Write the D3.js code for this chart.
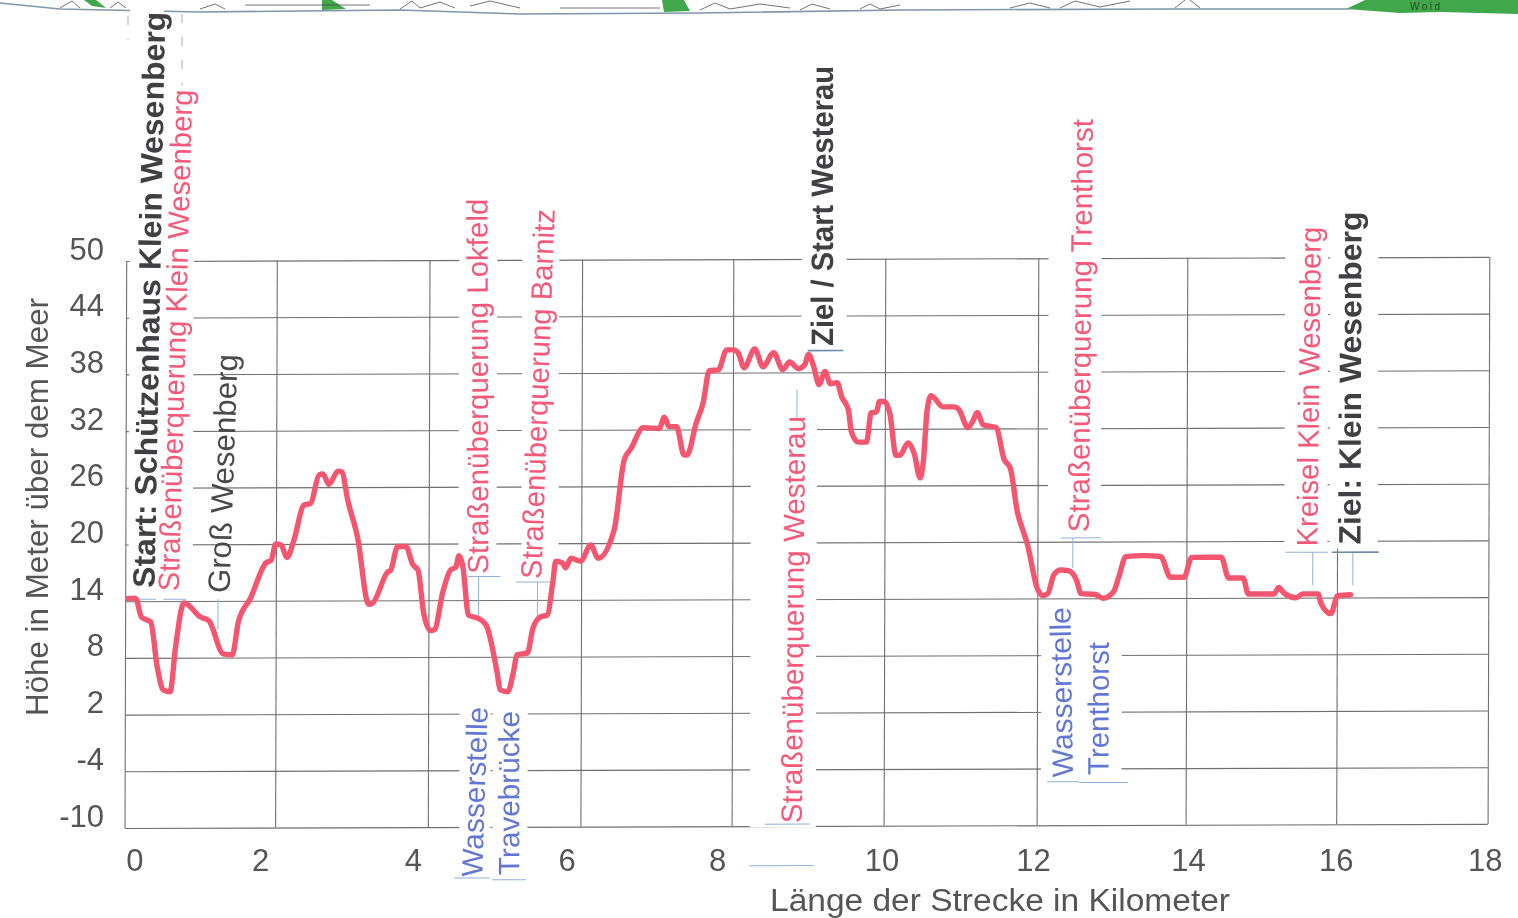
<!DOCTYPE html>
<html>
<head>
<meta charset="utf-8">
<title>Höhenprofil</title>
<script src="https://cdn.jsdelivr.net/npm/d3@7"></script>
<style>
  html, body { margin: 0; padding: 0; background: #fff; overflow: hidden; }
  svg { display: block; }
  text { font-family: "Liberation Sans", Arial, sans-serif; }
  .grid line { stroke: #6f6f6f; stroke-width: 1.1; }
  .grid path { display: none; }
  .tick-label, .axis-title { fill: #545454; }
  .label-start { fill: #404042; font-weight: bold; font-size: 31px; }
  .label-road { fill: #f4597a; font-size: 29.5px; }
  .label-place { fill: #4a4a4c; font-size: 31px; }
  .label-water { fill: #6277d4; font-size: 29.5px; }
</style>
</head>
<body>
<svg id="canvas"></svg>
<script>
// Profile: distance in km, height in m
const distanceKm = [0.03,0.13,0.21,0.33,0.42,0.50,0.59,0.66,0.77,0.99,1.10,1.29,1.41,1.49,1.65,1.85,1.92,1.98,2.05,2.13,2.22,2.35,2.44,2.55,2.60,2.68,2.80,2.85,2.93,3.06,3.21,3.26,3.46,3.50,3.59,3.70,3.79,3.86,3.94,4.03,4.08,4.19,4.29,4.36,4.40,4.45,4.53,4.65,4.76,4.91,4.95,5.05,5.13,5.17,5.31,5.38,5.48,5.57,5.64,5.68,5.77,5.81,5.88,6.01,6.14,6.24,6.45,6.58,6.67,6.83,7.04,7.11,7.17,7.27,7.37,7.41,7.53,7.62,7.70,7.82,7.93,8.02,8.08,8.16,8.30,8.41,8.55,8.67,8.76,8.88,8.96,9.01,9.08,9.15,9.23,9.30,9.39,9.45,9.54,9.58,9.67,9.78,9.84,9.91,9.95,10.01,10.09,10.17,10.22,10.33,10.41,10.49,10.53,10.58,10.63,10.79,10.94,11.00,11.12,11.19,11.24,11.32,11.49,11.60,11.68,11.78,11.85,11.90,12.05,12.11,12.18,12.26,12.35,12.46,12.56,12.62,12.81,12.91,13.05,13.12,13.21,13.45,13.67,13.80,13.98,14.08,14.47,14.57,14.76,14.83,15.17,15.23,15.30,15.46,15.55,15.75,15.79,15.92,16.01,16.18];
const heightM = [14.3,14.3,12.3,11.8,7.0,4.6,4.4,9.1,13.8,12.3,11.9,8.4,8.3,11.8,14.3,18.0,18.3,20.0,19.9,18.6,20.4,24.1,24.3,27.3,27.4,26.3,27.7,27.6,24.6,20.7,13.6,13.7,17.0,17.2,19.7,19.7,17.8,17.2,12.5,10.8,10.9,14.9,17.2,17.5,18.7,17.7,12.4,12.1,11.4,6.3,4.5,4.3,6.6,8.2,8.4,11.0,12.2,12.4,15.8,18.1,17.9,17.4,18.4,18.1,19.8,18.4,21.4,28.8,30.0,32.2,32.1,33.3,32.3,32.3,29.3,29.3,32.7,34.8,38.2,38.3,40.4,40.4,40.1,38.5,40.5,38.6,40.1,38.3,39.1,38.4,38.8,39.9,38.6,36.7,38.1,36.8,36.9,35.4,34.0,31.7,30.6,30.6,33.7,33.8,34.9,34.9,33.5,29.2,29.2,30.5,29.4,26.8,28.4,34.0,35.5,34.3,34.3,34.0,32.1,32.9,33.7,32.4,32.1,28.7,27.8,23.0,21.2,20.0,14.9,14.3,14.5,16.5,17.0,16.9,15.9,14.5,14.4,14.0,14.7,16.3,18.4,18.5,18.4,16.2,16.2,18.3,18.3,16.1,16.1,14.4,14.4,15.1,14.5,14.0,14.4,14.4,13.4,12.3,14.2,14.3];

const xTicks = [0,2,4,6,8,10,12,14,16,18];
const yTicks = [-10,-4,2,8,14,20,26,32,38,44,50];

// Waypoint names, with where each one starts on the chart (km, m)
const labelNames = ["Start: Schützenhaus Klein Wesenberg","Straßenüberquerung Klein Wesenberg","Groß Wesenberg","Straßenüberquerung Lokfeld","Straßenüberquerung Barnitz","Wasserstelle","Travebrücke","Straßenüberquerung Westerau","Ziel / Start Westerau","Straßenüberquerung Trenthorst","Wasserstelle","Trenthorst","Kreisel Klein Wesenberg","Ziel: Klein Wesenberg"];
const labelKinds = ["start","road","place","road","road","water","water","road","start","road","water","water","road","start"];
const labelKm = [0.38,0.70,1.37,4.79,5.49,4.72,5.21,8.94,9.34,12.72,12.52,12.99,15.74,16.31];
const labelM = [15.4,15.0,14.8,16.8,16.2,-15.3,-15.1,-9.7,40.8,21.0,-4.9,-4.7,19.4,19.6];

// Printed length, hand-pasted tilt (deg), and how far the white strip reaches either side of the baseline (px)
const labelLength = [576,502,239,375,370,170,164,407,280,413,170,133,320,333];
const labelTilt = [0.9,1.4,1.8,-0.3,1.9,1.7,-0.2,0.3,-0.2,0.4,-1,0,0.5,0];
const maskLeft = [26,18,0,30,20,23,27,52,32,41,32,36,33,31];
const maskRight = [8,14,0,8,17,8,8,14,13,12,11,13,10,17];

// Paper offsets of the printed tick labels against their grid lines (km)
const xTickShift = [0.13,-0.21,-0.19,-0.16,-0.17,0,0,0.05,0,-0.03];
// The printed km grid is not quite even on the scan (px)
const xGridShift = [-0.5,-1.3,0,1.2,1,1.6,3.2,0.8,0,0];

const width = 1518, height = 918;
const svg = d3.select("#canvas").attr("width", width).attr("height", height);

svg.append("defs").append("filter").attr("id", "scan")
  .attr("x", 0).attr("y", 0).attr("width", 1).attr("height", 1)
  .append("feGaussianBlur").attr("stdDeviation", 0.45);

const page = svg.append("g").attr("filter", "url(#scan)");
page.append("rect").attr("width", width).attr("height", height).attr("fill", "#fff");

// Scrap of the map along the top edge of the scan
const scrap = page.append("g");
[
  "M84,0L96,0L106,8L92,6Z",
  "M322,0L332,0L346,9L322,10Z",
  "M662,0L684,0L690,11L664,12Z",
  "M1346,9L1365,0L1518,0L1518,14L1440,12L1400,13Z"
].forEach(d => scrap.append("path").attr("d", d).attr("fill", "#3fa84c"));
scrap.append("path")
  .attr("d", "M0,3L60,9L200,12L400,10L520,14L700,13L900,10L1170,9L1350,9")
  .attr("fill", "none").attr("stroke", "#7f96ab").attr("stroke-width", 1.6);
scrap.append("path")
  .attr("d", "M60,8L72,1L80,8M110,8L118,2L126,8M200,9L215,4L225,9M245,5H370M400,9L412,1L420,8L440,2L455,8M470,6L490,1L520,8M560,8H660M700,10L715,3L730,9L760,4L790,8M800,10L812,4L830,9M860,9L870,4L880,9L900,5M1010,8L1030,3L1050,8M1060,8L1075,1L1100,7L1130,1M1175,8L1185,0M1190,0L1200,8")
  .attr("fill", "none").attr("stroke", "#444").attr("stroke-width", 1).attr("opacity", 0.75);
scrap.append("path")
  .attr("d", "M128,16V40M182,14V92")
  .attr("fill", "none").attr("stroke", "#aaa").attr("stroke-width", 1).attr("stroke-dasharray", "9 14");
scrap.append("text").attr("x", 1410).attr("y", 10).attr("font-size", 10).attr("letter-spacing", 2.5).attr("fill", "#24472b").text("Wold");

// Plot area: the sheet is slightly sheared on the scan
const margin = { left: 125, bottom: 828 };
const plotW = 1362.6, plotH = 567;
const skew = 0.003;
const plot = page.append("g")
  .attr("transform", `matrix(1,${-skew},${-skew},1,${margin.left + skew * plotH},${margin.bottom - plotH})`);

const x = d3.scaleLinear().domain([0, 18]).range([0, plotW]);
const y = d3.scaleLinear().domain([-10, 50]).range([plotH, 0]);
const gridX = d3.scaleLinear().domain(xTicks).range(xTicks.map((t, i) => x(t) + xGridShift[i]));

plot.append("g").attr("class", "grid")
  .call(d3.axisLeft(y).tickValues(yTicks).tickSize(-plotW).tickFormat(""));
plot.append("g").attr("class", "grid")
  .attr("transform", `translate(0,${plotH})`)
  .call(d3.axisBottom(gridX).tickValues(xTicks).tickSize(-plotH).tickFormat(""));

// White paste-up strips cover the grid behind the labels
plot.append("g").selectAll("rect")
  .data(labelNames.map((d, i) => i).filter(i => labelKinds[i] !== "place"))
  .join("rect")
  .attr("x", i => x(labelKm[i]) - maskLeft[i])
  .attr("y", i => y(labelM[i]) - labelLength[i] - 4)
  .attr("width", i => maskLeft[i] + maskRight[i])
  .attr("height", i => labelLength[i] + 8)
  .attr("fill", "#fff");

const profile = distanceKm.map((km, i) => ({ km, m: heightM[i] }));
const line = d3.line().x(d => x(d.km)).y(d => y(d.m)).curve(d3.curveMonotoneX);

// Leader lines, thin blue pen, in km / m
const leaders = [
  [[0.02,14.2],[0.40,14.2]], [[0.50,14.2],[0.80,14.2]], [[1.22,14.2],[1.22,11.0]],
  [[4.52,16.5],[4.95,16.5]], [[4.66,16.5],[4.66,12.4]], [[5.15,15.9],[5.61,15.9]], [[5.44,15.9],[5.44,12.2]],
  [[8.86,36.2],[8.86,32.8]], [[8.45,-9.8],[9.05,-9.8]], [[8.25,-14.2],[9.10,-14.2]],
  [[12.35,20.4],[12.88,20.4]], [[12.51,20.4],[12.51,17.2]],
  [[4.35,-15.4],[4.82,-15.4]], [[4.85,-15.6],[5.30,-15.6]],
  [[12.18,-5.4],[12.60,-5.4]], [[12.60,-5.5],[13.25,-5.5]],
  [[15.32,18.8],[15.88,18.8]], [[15.68,18.8],[15.68,15.3]], [[16.21,18.8],[16.21,15.3]]
];
plot.append("g").selectAll("path").data(leaders).join("path")
  .attr("d", d3.line().x(d => x(d[0])).y(d => y(d[1])))
  .attr("fill", "none").attr("stroke", "#8fb2dc").attr("stroke-width", 1);
const darkLeaders = [
  [[9.0,40.3],[9.47,40.3]], [[15.93,18.8],[16.55,18.8]]
];
plot.append("g").selectAll("path").data(darkLeaders).join("path")
  .attr("d", d3.line().x(d => x(d[0])).y(d => y(d[1])))
  .attr("fill", "none").attr("stroke", "#6d8ba6").attr("stroke-width", 1.6);

plot.append("path").datum(profile)
  .attr("d", line)
  .attr("fill", "none")
  .attr("stroke", "#f4566f")
  .attr("stroke-width", 5.4)
  .attr("stroke-linejoin", "round")
  .attr("stroke-linecap", "round");

plot.append("g").selectAll("text")
  .data(labelNames)
  .join("text")
  .attr("class", (d, i) => "label-" + labelKinds[i])
  .attr("textLength", (d, i) => labelLength[i])
  .attr("lengthAdjust", "spacingAndGlyphs")
  .attr("transform", (d, i) => `translate(${x(labelKm[i])},${y(labelM[i])}) rotate(${-90 + labelTilt[i]})`)
  .text(d => d);

// Tick labels
const tickFont = 31;
page.append("g").selectAll("text").data(yTicks).join("text")
  .attr("class", "tick-label")
  .attr("text-anchor", "end")
  .attr("font-size", tickFont)
  .attr("x", 104)
  .attr("y", d => margin.bottom - plotH + y(d) - 1.5)
  .text(d => d);

page.append("g").selectAll("text").data(xTicks).join("text")
  .attr("class", "tick-label")
  .attr("text-anchor", "middle")
  .attr("font-size", tickFont)
  .attr("x", (d, i) => margin.left + x(d + xTickShift[i]))
  .attr("y", 871)
  .text(d => d);

page.append("text")
  .attr("class", "axis-title")
  .attr("font-size", 31)
  .attr("textLength", 418)
  .attr("lengthAdjust", "spacingAndGlyphs")
  .attr("transform", "translate(48,716) rotate(-90)")
  .text("Höhe in Meter über dem Meer");

page.append("text")
  .attr("class", "axis-title")
  .attr("font-size", 31)
  .attr("textLength", 460)
  .attr("lengthAdjust", "spacingAndGlyphs")
  .attr("x", 770)
  .attr("y", 911)
  .text("Länge der Strecke in Kilometer");
</script>
</body>
</html>
